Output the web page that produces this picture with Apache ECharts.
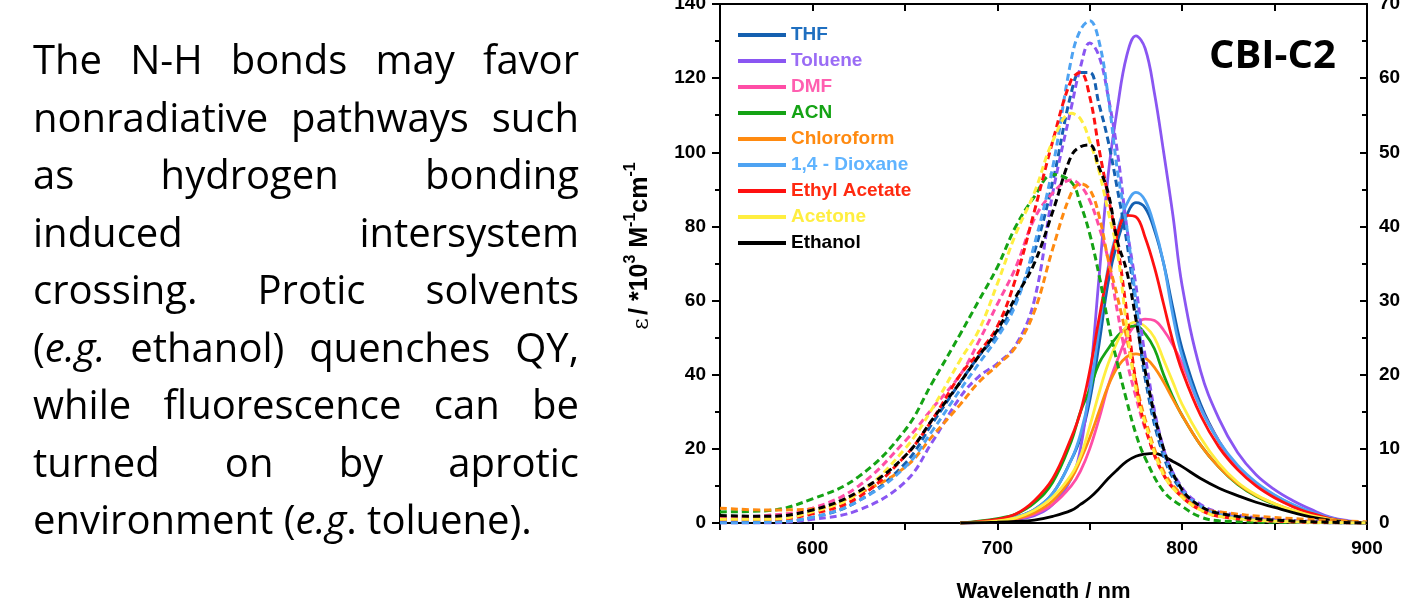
<!DOCTYPE html>
<html>
<head>
<meta charset="utf-8">
<title>CBI-C2 solvents</title>
<script src="https://cdn.jsdelivr.net/npm/echarts@6/dist/echarts.min.js"></script>
<style>
  html, body { margin: 0; padding: 0; background: #fff; }
  #main { position: absolute; left: 0; top: 0; width: 1423px; height: 598px; }
  #note {
    position: absolute; left: 33px; top: 30px; width: 546px;
    font-family: 'Open Sans', sans-serif; font-size: 40px; line-height: 57.5px; color: #000;
  }
  #note div { text-align: justify; text-align-last: justify; }
  #note div.last { text-align: left; text-align-last: left; }
</style>
</head>
<body>
<div id="main"></div>
<div id="note">
  <div>The N-H bonds may favor</div>
  <div>nonradiative pathways such</div>
  <div>as hydrogen bonding</div>
  <div>induced intersystem</div>
  <div>crossing. Protic solvents</div>
  <div>(<i>e.g.</i> ethanol) quenches QY,</div>
  <div>while fluorescence can be</div>
  <div>turned on by aprotic</div>
  <div class="last">environment (<i>e.g</i>. toluene).</div>
</div>
<script>
// Длины волн для спектров поглощения (пунктир, левая ось)
const absWl = [550, 575, 600, 625, 650, 665, 680, 690, 700, 710, 720, 730, 740, 745, 750, 755, 760, 765, 770, 775, 780, 790, 800, 810, 820, 850, 900];

const absTHF     = [0.3, 0.3, 1.5, 6, 16, 27, 38, 45, 51, 60, 73, 92, 116, 121.5, 121.5, 113, 103, 90, 76, 58, 39, 18, 8.5, 4.5, 2.3, 0.5, 0];
const absToluene = [0, 0, 1, 3.5, 11, 22, 34, 39.5, 43, 48, 60, 89, 112, 123, 129.5, 126, 115, 100, 80, 64, 45, 20, 9.5, 5, 3, 1, 0];
const absDMF     = [1.5, 2, 4, 10, 22, 31, 40, 49, 59, 69, 82, 89, 92.5, 91, 87, 80, 71, 57, 44, 34, 25.5, 13, 7.5, 3.8, 1.8, 0.4, 0];
const absACN     = [3, 3.3, 6.5, 12.5, 25, 38, 51, 60, 69, 80, 88, 94, 92, 86, 78, 67, 54, 43, 33, 24, 17.5, 8.5, 4.5, 1.6, 0.6, 0.2, 0];
const absChloro  = [4, 3.5, 3.8, 8, 15, 23.5, 32, 38, 42.5, 47.5, 57, 74, 89, 91.5, 90, 83, 71, 61, 50, 38, 28, 14, 7.5, 4, 3, 1.5, 0.3];
const absDioxane = [0, 0.2, 1.5, 6, 15, 25, 36, 43, 50, 59, 75, 96, 125, 133, 135.5, 130, 115, 95, 80, 60, 41, 19, 9, 4.5, 2.3, 0.5, 0];
const absEthylAc = [1, 1, 2.5, 7, 18, 28, 40, 46, 53, 66, 84, 103, 119.5, 121.5, 115, 101, 88, 75, 57, 38, 26, 13, 7, 3.5, 1.8, 0.5, 0];
const absAcetone = [1, 1, 3, 8, 20, 31, 44, 52, 64.5, 78, 89, 103, 110.5, 109, 103, 95, 84, 73, 53, 36, 27, 13, 7, 3.5, 1.8, 0.5, 0];
const absEthanol = [2, 1.8, 3.5, 8.5, 18, 28, 38, 45, 52, 61, 70, 84, 99, 101.5, 102, 96, 89, 76, 68, 55, 41, 20, 9, 4.5, 2.6, 0.8, 0];

// Длины волн для спектров эмиссии (сплошные, правая ось)
const emWl = [680, 700, 710, 720, 730, 740, 745, 750, 755, 760, 765, 770, 775, 780, 785, 790, 795, 800, 810, 820, 830, 840, 850, 860, 870, 880, 890, 900];

const emTHF     = [0, 0.3, 0.8, 1.8, 4, 8.5, 11.5, 16.5, 24, 32.5, 38, 41.5, 43.2, 42.5, 39.5, 35, 29, 23.5, 16, 11, 7.5, 5.3, 3.7, 2.4, 1.4, 0.7, 0.2, 0];
const emToluene = [0, 0.2, 0.5, 1, 2.5, 6, 10, 19, 33, 47, 56, 63, 65.7, 64, 58, 50, 41.5, 32, 20.5, 14, 9.5, 6.5, 4.5, 3, 1.8, 0.8, 0.3, 0];
const emDMF     = [0, 0.2, 0.5, 1.2, 2.5, 5, 7, 10, 14, 18.5, 22, 25, 26.8, 27.5, 27.3, 26, 24, 21.5, 15.5, 11, 7.5, 5.2, 3.5, 2.2, 1.3, 0.6, 0.2, 0];
const emACN     = [0, 0.6, 1.2, 2.7, 5.5, 11, 15, 18, 21.5, 23.5, 25.2, 26.3, 26.6, 25.5, 23.5, 20, 17, 14.5, 10.5, 7.5, 5.2, 3.6, 2.5, 1.6, 0.9, 0.4, 0.1, 0];
const emChloro  = [0, 0.3, 0.6, 1.4, 3, 6, 8.5, 11.5, 15, 18.5, 21, 22.4, 22.8, 22.3, 21, 19, 16.7, 14.5, 10.5, 7.5, 5.3, 3.7, 2.6, 1.7, 1, 0.5, 0.15, 0];
const emDioxane = [0, 0.3, 0.8, 1.8, 4, 8.5, 12, 17.5, 26, 34.5, 39.5, 43, 44.6, 43.5, 40, 35, 28, 22.5, 15.5, 11, 7.8, 5.5, 3.8, 2.5, 1.5, 0.7, 0.2, 0];
const emEthylAc = [0, 0.5, 1.2, 3, 6, 11.5, 15, 20.5, 27.5, 34, 39, 41.5, 41.3, 38.5, 34.5, 29.5, 24.5, 20.5, 14.5, 10.2, 7.2, 5, 3.4, 2.2, 1.3, 0.6, 0.2, 0];
const emAcetone = [0, 0.3, 0.7, 1.7, 3.5, 6.5, 9, 13, 17.5, 21.5, 24.5, 26.5, 27.1, 26.5, 25, 22, 19, 16, 11.5, 8, 5.5, 3.8, 2.6, 1.7, 1, 0.5, 0.15, 0];
const emEthanol = [0, 0.1, 0.2, 0.4, 0.9, 1.7, 2.5, 3.4, 4.6, 6, 7.2, 8.3, 9, 9.3, 9.4, 9, 8.3, 7.6, 6, 4.7, 3.7, 2.8, 2.1, 1.4, 0.8, 0.4, 0.15, 0];

const solvents = ['THF', 'Toluene', 'DMF', 'ACN', 'Chloroform', '1,4 - Dioxane', 'Ethyl Acetate', 'Acetone', 'Ethanol'];
const absSets = [absTHF, absToluene, absDMF, absACN, absChloro, absDioxane, absEthylAc, absAcetone, absEthanol];
const emSets = [emTHF, emToluene, emDMF, emACN, emChloro, emDioxane, emEthylAc, emAcetone, emEthanol];

// Цвета линий и подписей легенды
const lineColors = ['#1560b0', '#8a56f2', '#ff4da6', '#15a315', '#ff8a10', '#4ea3f2', '#ff1010', '#ffee40', '#000000'];
const textColors = ['#1f6fc0', '#9a6cf5', '#ff5fb0', '#15a315', '#ff8a10', '#60b4ff', '#ff2a10', '#ffee40', '#000000'];

const axisFont = 'Liberation Sans, Arial, sans-serif';

const toPairs = (xs, ys) => xs.map((x, i) => [x, ys[i]]);

const chart = echarts.init(document.getElementById('main'), null, { renderer: 'canvas' });

const series = [];
// сначала сплошные (эмиссия), потом пунктир поверх
solvents.forEach((name, i) => {
  series.push({
    name: name,
    type: 'line',
    xAxisIndex: 0,
    yAxisIndex: 1,
    data: toPairs(emWl, emSets[i]),
    smooth: 0.4,
    showSymbol: false,
    color: lineColors[i],
    lineStyle: { width: 2.8, color: lineColors[i] },
    z: 2
  });
});
solvents.forEach((name, i) => {
  series.push({
    name: name,
    type: 'line',
    xAxisIndex: 0,
    yAxisIndex: 0,
    data: toPairs(absWl, absSets[i]),
    smooth: 0.4,
    showSymbol: false,
    color: lineColors[i],
    lineStyle: { width: 3, type: [7, 4], color: lineColors[i] },
    z: 3
  });
});

chart.setOption({
  animation: false,
  backgroundColor: 'transparent',
  title: {
    text: 'CBI-C2',
    left: 1204,
    top: 32,
    textStyle: { fontFamily: 'Open Sans', fontWeight: 'bold', fontSize: 40, color: '#000' }
  },
  legend: {
    orient: 'vertical',
    left: 733,
    top: 20,
    icon: 'rect',
    itemWidth: 48,
    itemHeight: 4,
    itemGap: 6,
    selectedMode: false,
    textStyle: { fontFamily: axisFont, fontWeight: 'bold', fontSize: 19, lineHeight: 20 },
    data: solvents.map((s, i) => ({ name: s, textStyle: { color: textColors[i] } }))
  },
  // без автоматического сжатия области графика
  grid: { left: 720, top: 4, width: 647, height: 519, outerBoundsMode: 'none', containLabel: false },
  xAxis: [
    {
      type: 'value', position: 'bottom', min: 550, max: 900, interval: 50,
      name: 'Wavelength / nm', nameLocation: 'middle', nameGap: 58,
      nameTextStyle: { fontFamily: axisFont, fontWeight: 'bold', fontSize: 22, color: '#000' },
      axisLine: { onZero: false, lineStyle: { color: '#000', width: 2 } },
      axisTick: { inside: false, length: 7, lineStyle: { color: '#000', width: 2 } },
      axisLabel: {
        margin: 16, fontFamily: axisFont, fontWeight: 'bold', fontSize: 19, color: '#000',
        formatter: v => (v % 100 === 0 ? String(v) : '')
      },
      splitLine: { show: false }
    },
    {
      type: 'value', position: 'top', min: 550, max: 900, interval: 50,
      axisLine: { onZero: false, lineStyle: { color: '#000', width: 2 } },
      axisTick: { inside: true, length: 7, lineStyle: { color: '#000', width: 2 } },
      axisLabel: { show: false },
      splitLine: { show: false }
    }
  ],
  yAxis: [
    {
      type: 'value', position: 'left', min: 0, max: 140, interval: 20,
      axisLine: { show: true, onZero: false, lineStyle: { color: '#000', width: 2 } },
      axisTick: { show: true, inside: false, length: 8, lineStyle: { color: '#000', width: 2 } },
      minorTick: { show: true, splitNumber: 2, length: 5, lineStyle: { color: '#000', width: 2 } },
      axisLabel: { margin: 14, fontFamily: axisFont, fontWeight: 'bold', fontSize: 19, color: '#000' },
      splitLine: { show: false }
    },
    {
      type: 'value', position: 'right', min: 0, max: 70, interval: 10,
      axisLine: { show: true, onZero: false, lineStyle: { color: '#000', width: 2 } },
      axisTick: { show: true, inside: true, length: 7, lineStyle: { color: '#000', width: 2 } },
      minorTick: { show: true, splitNumber: 2, length: 5, lineStyle: { color: '#000', width: 2 } },
      axisLabel: { margin: 12, fontFamily: axisFont, fontWeight: 'bold', fontSize: 19, color: '#000' },
      splitLine: { show: false }
    }
  ],
  // подпись левой оси (с надстрочными индексами)
  graphic: [
    {
      type: 'text',
      x: 638,
      y: 246,
      rotation: Math.PI / 2,
      style: {
        text: '{eps|ε} {b|/ *10}{sup|3}{b| M}{sup|-1}{b|cm}{sup|-1}',
        align: 'center',
        verticalAlign: 'middle',
        fill: '#000',
        rich: {
          eps: { fontFamily: 'DejaVu Serif', fontSize: 22, lineHeight: 30, verticalAlign: 'bottom' },
          b: { fontFamily: axisFont, fontWeight: 'bold', fontSize: 25, lineHeight: 30, verticalAlign: 'bottom' },
          sup: { fontFamily: axisFont, fontWeight: 'bold', fontSize: 16, lineHeight: 30, verticalAlign: 'top' }
        }
      }
    }
  ],
  series: series
});
</script>
</body>
</html>
